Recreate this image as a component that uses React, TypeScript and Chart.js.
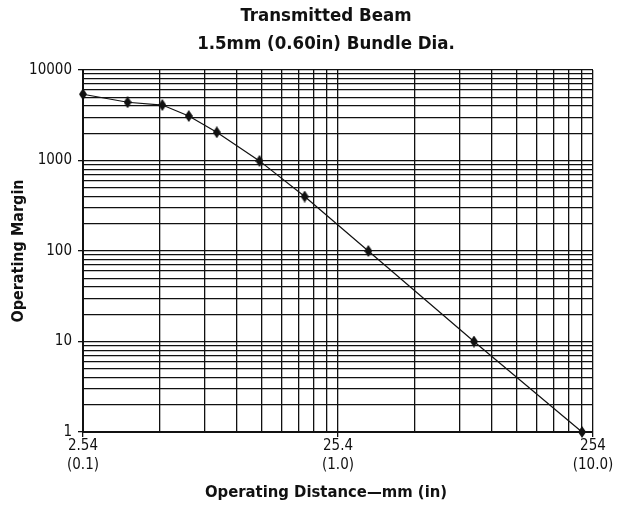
import { useEffect, useRef } from "react";
import { Chart, registerables } from "chart.js";

Chart.register(...registerables);

// ---- data ----
const distanceMm = [2.54, 3.8, 5.2, 6.6, 8.5, 12.5, 18.8, 33.4, 86.7, 230];
const operatingMargin = [5400, 4400, 4100, 3100, 2050, 990, 400, 100, 10, 1];

// ---- tick labels ----
const xLabelValues = [2.54, 25.4, 254];
const xLabelMm = ["2.54", "25.4", "254"];
const xLabelInches = ["(0.1)", "(1.0)", "(10.0)"];
const yLabelValues = [1, 10, 100, 1000, 10000];
const yLabelTexts = ["1", "10", "100", "1000", "10000"];

// ---- log grid layout ----
const gridMultipliers = [1, 2, 3, 4, 5, 6, 7, 8, 9];
const xDecades = [2.54, 25.4];
const xLast = 254;
const yDecades = [1, 10, 100, 1000];
const yLast = 10000;

const xGrid = [
  ...xDecades.flatMap((d) => gridMultipliers.map((m) => Math.round(d * m * 10000) / 10000)),
  xLast,
];
const yGrid = [...yDecades.flatMap((d) => gridMultipliers.map((m) => d * m)), yLast];

const FONT = "'Liberation Sans Narrow', 'DejaVu Sans Condensed', 'Arial Narrow', sans-serif";
const INK = "#111111";

function findIndex(list: number[], v: number) {
  return list.findIndex((t) => Math.abs(t - v) < 1e-6 * Math.max(1, Math.abs(v)));
}

function makeDiamond() {
  const c = document.createElement("canvas");
  c.width = 8;
  c.height = 12;
  const g = c.getContext("2d")!;
  g.fillStyle = INK;
  g.beginPath();
  g.moveTo(4, 0);
  g.lineTo(8, 6);
  g.lineTo(4, 12);
  g.lineTo(0, 6);
  g.closePath();
  g.fill();
  return c;
}

export default function App() {
  const ref = useRef<HTMLCanvasElement | null>(null);

  useEffect(() => {
    if (!ref.current) return;
    const diamond = makeDiamond();
    const chart = new Chart(ref.current, {
      type: "line",
      data: {
        datasets: [
          {
            data: distanceMm.map((x, i) => ({ x, y: operatingMargin[i] })),
            borderColor: INK,
            borderWidth: 1.2,
            pointStyle: diamond as any,
            pointRadius: 5,
            pointBackgroundColor: INK,
            pointBorderColor: INK,
            tension: 0,
            fill: false,
            clip: false as any,
          },
        ],
      },
      options: {
        responsive: false,
        animation: false,
        layout: { padding: { left: 0, right: 0, top: 0, bottom: 0 } },
        plugins: {
          legend: { display: false },
          tooltip: { enabled: false },
          title: {
            display: true,
            text: ["Transmitted Beam", "1.5mm (0.60in) Bundle Dia."],
            color: INK,
            font: { family: FONT, size: 18.5, weight: "bold", lineHeight: 28.6 / 18.5 },
            padding: { top: 1.5, bottom: 11.3 },
          },
          subtitle: {
            display: true,
            position: "bottom",
            text: "Operating Distance\u2014mm (in)",
            color: INK,
            font: { family: FONT, size: 16.5, weight: "bold", lineHeight: 1.2 },
            padding: { top: 0, bottom: 7.1 },
          },
        },
        scales: {
          x: {
            type: "logarithmic",
            min: 2.54,
            max: 254,
            afterBuildTicks: (scale: any) => {
              scale.ticks = xGrid.map((v) => ({ value: v }));
            },
            afterFit: (scale: any) => {
              scale.height = 51.1;
            },
            border: { display: true, color: INK, width: 2 },
            grid: {
              color: INK,
              lineWidth: 1.3,
              drawTicks: true,
              tickLength: 5,
              tickColor: (ctx: any) =>
                ctx.tick && findIndex(xLabelValues, ctx.tick.value) >= 0 ? INK : "rgba(0,0,0,0)",
            },
            ticks: {
              autoSkip: false,
              maxRotation: 0,
              minRotation: 0,
              padding: 0,
              color: INK,
              font: { family: FONT, size: 15, lineHeight: 19 / 15 },
              callback: (value: any) => {
                const i = findIndex(xLabelValues, Number(value));
                return i >= 0 ? [xLabelMm[i], xLabelInches[i]] : "";
              },
            },
          },
          y: {
            type: "logarithmic",
            min: 1,
            max: 10000,
            afterBuildTicks: (scale: any) => {
              scale.ticks = yGrid.map((v) => ({ value: v }));
            },
            afterFit: (scale: any) => {
              scale.width = 83;
            },
            border: { display: true, color: INK, width: 2 },
            grid: {
              color: INK,
              lineWidth: 1.3,
              drawTicks: true,
              tickLength: 5,
              tickColor: (ctx: any) =>
                ctx.tick && findIndex(yLabelValues, ctx.tick.value) >= 0 ? INK : "rgba(0,0,0,0)",
            },
            ticks: {
              autoSkip: false,
              padding: 6,
              color: INK,
              font: { family: FONT, size: 15 },
              callback: (value: any) => {
                const i = findIndex(yLabelValues, Number(value));
                return i >= 0 ? yLabelTexts[i] : "";
              },
            },
            title: {
              display: true,
              text: "Operating Margin",
              color: INK,
              font: { family: FONT, size: 16, weight: "bold", lineHeight: 1.2 },
              padding: { top: 9.4, bottom: 0 },
            },
          },
          yRightSpace: {
            type: "linear",
            position: "right",
            display: true,
            afterFit: (scale: any) => {
              scale.width = 59;
            },
            border: { display: false },
            grid: { display: false, drawTicks: false },
            ticks: { display: false },
          },
        },
      },
    });
    return () => chart.destroy();
  }, []);

  return (
    <div
      style={{
        position: "absolute",
        left: 0,
        top: 0,
        width: 619,
        height: 510,
        overflow: "hidden",
        background: "#ffffff",
      }}
    >
      <canvas ref={ref} width={652} height={510} style={{ width: 652, height: 510, display: "block" }} />
    </div>
  );
}
